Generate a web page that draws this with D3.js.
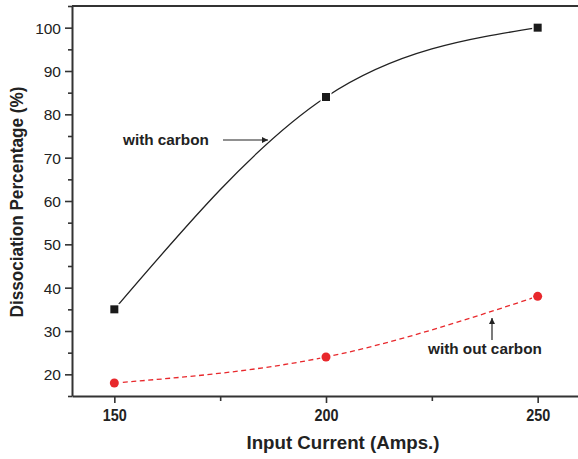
<!DOCTYPE html>
<html><head><meta charset="utf-8">
<script src="https://cdn.jsdelivr.net/npm/d3@7"></script>
<style>body{margin:0;background:#fff;}svg{display:block;font-family:"Liberation Sans",Arial,sans-serif;}</style>
</head><body>
<svg id="c" width="578" height="459"></svg>
<script>
const current = [150, 200, 250];
const withCarbon = [35, 84, 100];
const withoutCarbon = [18, 24, 38];
const xMajorTicks = [150, 200, 250];
const xMinorTicks = [175, 225];
const yMajorTicks = [20, 30, 40, 50, 60, 70, 80, 90, 100];
const yMinorTicks = [15, 25, 35, 45, 55, 65, 75, 85, 95, 105];

const svg = d3.select("#c");
const x = d3.scaleLinear().domain([140, 260]).range([72, 580]);
const y = d3.scaleLinear().domain([15, 105]).range([396, 6]);
const axisColor = "#333";
const textColor = "#222";

// minor ticks
const gxm = svg.append("g").attr("transform", "translate(0,396)")
  .call(d3.axisBottom(x).tickValues(xMinorTicks).tickSize(5).tickFormat(""));
gxm.select(".domain").remove();
const gym = svg.append("g").attr("transform", "translate(72,0)")
  .call(d3.axisLeft(y).tickValues(yMinorTicks).tickSize(4).tickFormat(""));
gym.select(".domain").remove();

// major axes
const gx = svg.append("g").attr("transform", "translate(0,396)")
  .call(d3.axisBottom(x).tickValues(xMajorTicks).tickSize(7).tickSizeOuter(0).tickFormat(d3.format("d")));
gx.selectAll("text").attr("font-size", 16.5).attr("font-weight", "bold").attr("fill", textColor)
  .attr("font-family", "Liberation Sans, Arial, sans-serif")
  .attr("y", 25).attr("dy", 0)
  .attr("textLength", 24).attr("lengthAdjust", "spacingAndGlyphs");
const gy = svg.append("g").attr("transform", "translate(72,0)")
  .call(d3.axisLeft(y).tickValues(yMajorTicks).tickSize(7).tickSizeOuter(0).tickPadding(4).tickFormat(d3.format("d")));
gy.selectAll("text").attr("font-size", 15.5).attr("fill", textColor).attr("dy", "0.36em")
  .attr("font-family", "Liberation Sans, Arial, sans-serif");

svg.selectAll(".tick line").attr("stroke", axisColor).attr("stroke-width", 1.6);
svg.selectAll(".domain").attr("stroke", axisColor).attr("stroke-width", 2);

// top border
svg.append("line").attr("x1", 72).attr("x2", 580).attr("y1", y(105)).attr("y2", y(105))
  .attr("stroke", axisColor).attr("stroke-width", 2);

// axis titles
svg.append("text").attr("x", 343).attr("y", 449).attr("text-anchor", "middle")
  .attr("font-size", 17.5).attr("font-weight", "bold").attr("fill", textColor)
  .attr("textLength", 193).attr("lengthAdjust", "spacingAndGlyphs")
  .text("Input Current (Amps.)");
svg.append("text").attr("transform", "translate(23,202) rotate(-90)").attr("text-anchor", "middle")
  .attr("font-size", 17.5).attr("font-weight", "bold").attr("fill", textColor)
  .attr("textLength", 231).attr("lengthAdjust", "spacingAndGlyphs")
  .text("Dissociation Percentage (%)");

// curves
const line = d3.line().x((d, i) => x(current[i])).y(d => y(d)).curve(d3.curveNatural);
svg.append("path").attr("d", line(withCarbon)).attr("fill", "none")
  .attr("stroke", "#222").attr("stroke-width", 1.3);
svg.append("path").attr("d", line(withoutCarbon)).attr("fill", "none")
  .attr("stroke", "#e8282c").attr("stroke-width", 1.3).attr("stroke-dasharray", "5,3.5");

// markers
svg.selectAll(".sq").data(withCarbon).enter().append("rect")
  .attr("x", (d, i) => x(current[i]) - 4).attr("y", d => y(d) - 4)
  .attr("width", 8).attr("height", 8).attr("fill", "#1a1a1a")
  .attr("stroke", "#fff").attr("stroke-width", 3).attr("paint-order", "stroke");
svg.selectAll(".ci").data(withoutCarbon).enter().append("circle")
  .attr("cx", (d, i) => x(current[i])).attr("cy", d => y(d)).attr("r", 4.5)
  .attr("fill", "#e8282c")
  .attr("stroke", "#fff").attr("stroke-width", 3).attr("paint-order", "stroke");

// annotations
const defs = svg.append("defs");
defs.append("marker").attr("id", "ah").attr("viewBox", "0 0 10 10")
  .attr("refX", 10).attr("refY", 5).attr("markerWidth", 8).attr("markerHeight", 6)
  .attr("markerUnits", "userSpaceOnUse").attr("orient", "auto")
  .append("path").attr("d", "M0,0 L10,5 L0,10 z").attr("fill", "#222");

svg.append("text").attr("x", 123).attr("y", 145).attr("font-size", 15.3)
  .attr("font-weight", "bold").attr("fill", textColor).text("with carbon");
svg.append("line").attr("x1", 223).attr("x2", 268).attr("y1", 140).attr("y2", 140)
  .attr("stroke", "#222").attr("stroke-width", 1.2).attr("marker-end", "url(#ah)");

svg.append("text").attr("x", 428).attr("y", 354).attr("font-size", 15.3)
  .attr("font-weight", "bold").attr("fill", textColor).text("with out carbon");
svg.append("line").attr("x1", 492).attr("x2", 492).attr("y1", 340).attr("y2", 318)
  .attr("stroke", "#222").attr("stroke-width", 1.2).attr("marker-end", "url(#ah)");
</script>
</body></html>
